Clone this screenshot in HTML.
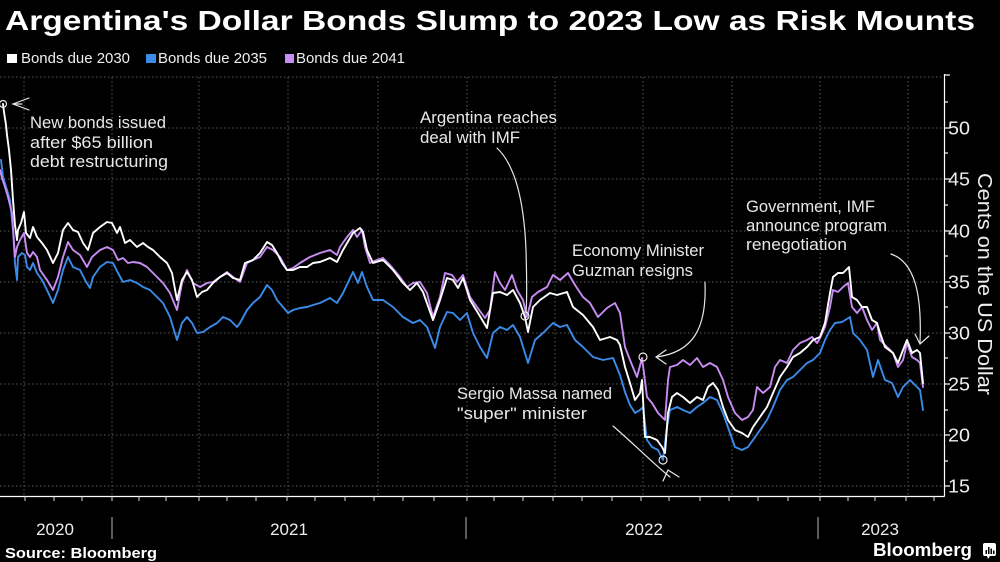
<!DOCTYPE html>
<html>
<head>
<meta charset="utf-8">
<style>
html,body{margin:0;padding:0;background:#000;}
body{width:1000px;height:562px;overflow:hidden;}
svg{display:block;}
text{font-family:"Liberation Sans",sans-serif;}
</style>
</head>
<body>
<svg width="1000" height="562" viewBox="0 0 1000 562" xmlns="http://www.w3.org/2000/svg">
<rect x="0" y="0" width="1000" height="562" fill="#000"/>

<!-- Title -->
<text x="5" y="30" font-size="28" font-weight="bold" fill="#fff" textLength="970" lengthAdjust="spacingAndGlyphs">Argentina's Dollar Bonds Slump to 2023 Low as Risk Mounts</text>

<!-- Legend -->
<rect x="7" y="54" width="10" height="9" fill="#fff"/>
<text x="21" y="63" font-size="15" fill="#eee" textLength="109" lengthAdjust="spacingAndGlyphs">Bonds due 2030</text>
<rect x="146" y="54" width="10" height="9" fill="#3b8be8"/>
<text x="158" y="63" font-size="15" fill="#eee" textLength="109" lengthAdjust="spacingAndGlyphs">Bonds due 2035</text>
<rect x="285" y="54" width="9" height="9" fill="#c88cf2"/>
<text x="296" y="63" font-size="15" fill="#eee" textLength="109" lengthAdjust="spacingAndGlyphs">Bonds due 2041</text>

<!-- Grid -->
<g stroke="#5a5a5a" stroke-width="1" stroke-dasharray="1.5,2.5">
<line x1="0" y1="77" x2="944" y2="77"/>
<line x1="0" y1="128" x2="944" y2="128"/>
<line x1="0" y1="179" x2="944" y2="179"/>
<line x1="0" y1="231" x2="944" y2="231"/>
<line x1="0" y1="282" x2="944" y2="282"/>
<line x1="0" y1="333" x2="944" y2="333"/>
<line x1="0" y1="384" x2="944" y2="384"/>
<line x1="0" y1="435" x2="944" y2="435"/>
<line x1="0" y1="486" x2="944" y2="486"/>
<line x1="24" y1="77" x2="24" y2="496"/>
<line x1="112" y1="77" x2="112" y2="496"/>
<line x1="199" y1="77" x2="199" y2="496"/>
<line x1="288" y1="77" x2="288" y2="496"/>
<line x1="378" y1="77" x2="378" y2="496"/>
<line x1="467" y1="77" x2="467" y2="496"/>
<line x1="555" y1="77" x2="555" y2="496"/>
<line x1="643" y1="77" x2="643" y2="496"/>
<line x1="732" y1="77" x2="732" y2="496"/>
<line x1="820" y1="77" x2="820" y2="496"/>
<line x1="908" y1="77" x2="908" y2="496"/>
</g>

<!-- Axes -->
<g stroke="#fff" stroke-width="1.2" fill="none">
<line x1="0" y1="496.5" x2="944.5" y2="496.5"/>
<line x1="944.5" y1="74" x2="944.5" y2="496.5"/>
<!-- y ticks -->
<line x1="944" y1="75" x2="950" y2="75"/>
<line x1="944" y1="102" x2="948" y2="102"/>
<line x1="944" y1="128" x2="950" y2="128"/>
<line x1="944" y1="153" x2="948" y2="153"/>
<line x1="944" y1="179" x2="950" y2="179"/>
<line x1="944" y1="205" x2="948" y2="205"/>
<line x1="944" y1="231" x2="950" y2="231"/>
<line x1="944" y1="256" x2="948" y2="256"/>
<line x1="944" y1="282" x2="950" y2="282"/>
<line x1="944" y1="307" x2="948" y2="307"/>
<line x1="944" y1="333" x2="950" y2="333"/>
<line x1="944" y1="358" x2="948" y2="358"/>
<line x1="944" y1="384" x2="950" y2="384"/>
<line x1="944" y1="410" x2="948" y2="410"/>
<line x1="944" y1="435" x2="950" y2="435"/>
<line x1="944" y1="461" x2="948" y2="461"/>
<line x1="944" y1="486" x2="950" y2="486"/>
</g>
<g stroke="#ddd" stroke-width="1">
<line x1="25" y1="496" x2="25" y2="501"/>
<line x1="54" y1="496" x2="54" y2="501"/>
<line x1="82" y1="496" x2="82" y2="501"/>
<line x1="112" y1="496" x2="112" y2="501"/>
<line x1="139" y1="496" x2="139" y2="501"/>
<line x1="166" y1="496" x2="166" y2="501"/>
<line x1="199" y1="496" x2="199" y2="501"/>
<line x1="227" y1="496" x2="227" y2="501"/>
<line x1="256" y1="496" x2="256" y2="501"/>
<line x1="287" y1="496" x2="287" y2="501"/>
<line x1="315" y1="496" x2="315" y2="501"/>
<line x1="345" y1="496" x2="345" y2="501"/>
<line x1="374" y1="496" x2="374" y2="501"/>
<line x1="403" y1="496" x2="403" y2="501"/>
<line x1="434" y1="496" x2="434" y2="501"/>
<line x1="467" y1="496" x2="467" y2="501"/>
<line x1="494" y1="496" x2="494" y2="501"/>
<line x1="523" y1="496" x2="523" y2="501"/>
<line x1="553" y1="496" x2="553" y2="501"/>
<line x1="582" y1="496" x2="582" y2="501"/>
<line x1="612" y1="496" x2="612" y2="501"/>
<line x1="641" y1="496" x2="641" y2="501"/>
<line x1="669" y1="496" x2="669" y2="501"/>
<line x1="700" y1="496" x2="700" y2="501"/>
<line x1="729" y1="496" x2="729" y2="501"/>
<line x1="758" y1="496" x2="758" y2="501"/>
<line x1="788" y1="496" x2="788" y2="501"/>
<line x1="820" y1="496" x2="820" y2="501"/>
<line x1="848" y1="496" x2="848" y2="501"/>
<line x1="875" y1="496" x2="875" y2="501"/>
<line x1="906" y1="496" x2="906" y2="501"/>
<line x1="934" y1="496" x2="934" y2="501"/>
</g>
<!-- year separators -->
<g stroke="#9a9a9a" stroke-width="1.2">
<line x1="112" y1="517" x2="112" y2="539"/>
<line x1="466" y1="517" x2="466" y2="539"/>
<line x1="818" y1="517" x2="818" y2="539"/>
</g>

<!-- Y labels -->
<g font-size="18" fill="#eee">
<text x="948" y="134.5" textLength="22" lengthAdjust="spacingAndGlyphs">50</text>
<text x="948" y="185.5" textLength="22" lengthAdjust="spacingAndGlyphs">45</text>
<text x="948" y="237.5" textLength="22" lengthAdjust="spacingAndGlyphs">40</text>
<text x="948" y="288.5" textLength="22" lengthAdjust="spacingAndGlyphs">35</text>
<text x="948" y="339.5" textLength="22" lengthAdjust="spacingAndGlyphs">30</text>
<text x="948" y="390.5" textLength="22" lengthAdjust="spacingAndGlyphs">25</text>
<text x="948" y="441.5" textLength="22" lengthAdjust="spacingAndGlyphs">20</text>
<text x="948" y="492.5" textLength="22" lengthAdjust="spacingAndGlyphs">15</text>
</g>
<text transform="translate(978,284) rotate(90)" text-anchor="middle" font-size="20" fill="#eee" textLength="222" lengthAdjust="spacingAndGlyphs">Cents on the US Dollar</text>

<!-- X labels -->
<g font-size="17" fill="#eee" text-anchor="middle">
<text x="55" y="535">2020</text>
<text x="289" y="535">2021</text>
<text x="644" y="535">2022</text>
<text x="880" y="535">2023</text>
</g>

<!-- Series -->
<g fill="none" stroke-width="1.9" stroke-linejoin="round" stroke-linecap="round">
<polyline stroke="#3b8be8" points="1,160 3,177 7,190 10,200 13,230 15,263 17,280 18,257 22,253 25,255 27,267 30,270 33,263 37,273 42,280 47,290 53,303 58,290 63,270 68,257 73,267 80,270 85,280 90,288 93,277 100,267 107,262 113,263 118,273 123,282 130,280 137,283 143,287 150,290 157,297 163,303 170,317 177,340 182,323 187,317 192,323 197,333 203,332 210,327 217,323 223,317 230,320 237,327 240,323 247,310 253,303 260,297 267,285 272,290 277,300 283,307 288,313 293,310 300,308 307,307 313,305 320,303 330,298 337,303 343,293 353,272 358,283 362,272 367,287 373,300 383,300 393,307 403,317 413,323 420,320 427,327 435,348 440,327 447,312 453,313 460,320 467,313 473,333 480,347 487,358 493,333 500,327 507,330 513,325 520,337 528,363 535,340 543,333 553,323 560,327 567,325 575,340 583,347 593,357 603,360 613,358 620,375 625,392 630,405 635,413 640,410 643,407 647,440 652,447 658,450 663,460 667,427 670,410 677,407 683,410 690,413 697,407 703,403 710,397 717,400 723,413 730,433 735,447 742,450 748,447 753,440 760,430 767,420 773,407 780,390 787,380 793,377 800,370 807,363 813,360 820,353 825,340 830,330 835,323 842,322 850,317 853,333 860,340 867,350 873,377 878,360 885,380 892,383 898,397 903,387 910,380 917,387 920,390 923,410"/>
<polyline stroke="#c88cf2" points="0,170 2,178 5,187 8,197 12,213 15,257 17,247 20,240 24,233 27,253 30,257 33,252 37,257 40,270 47,280 53,290 58,277 63,257 68,242 73,250 80,255 87,267 92,257 100,250 107,247 113,250 118,260 123,258 128,263 133,262 140,263 147,267 153,273 163,283 170,293 177,310 182,283 187,270 193,283 200,287 207,283 213,282 220,277 227,272 233,277 240,282 247,263 253,260 260,257 267,247 273,250 280,257 287,270 293,268 300,263 310,257 320,253 330,250 337,255 340,247 347,237 353,230 357,237 362,230 365,247 370,263 377,260 383,258 390,265 400,277 407,287 413,283 420,282 427,293 433,317 440,297 445,273 452,275 457,282 463,275 470,297 477,307 485,318 490,310 495,272 500,283 505,290 512,275 517,290 523,300 527,317 532,297 538,292 547,287 553,275 560,280 568,273 575,285 583,297 590,303 598,317 607,308 615,303 620,313 625,347 630,360 637,377 642,358 644,373 647,397 652,403 658,413 665,420 668,380 670,367 677,365 683,360 690,365 697,358 703,367 710,363 717,367 723,380 728,397 735,413 742,420 748,417 753,410 757,387 763,393 770,387 775,367 780,360 787,363 793,350 800,343 807,340 812,337 817,343 820,338 825,327 830,307 833,290 838,292 843,287 848,283 852,307 857,313 862,307 867,320 872,330 877,323 880,340 887,347 893,353 898,367 903,360 907,343 912,357 917,360 920,363 923,387"/>
<polyline stroke="#ffffff" points="3,104 4,112 6,125 7,135 9,150 11,170 13,200 15,225 17,240 18,230 21,223 24,212 26,233 30,238 33,227 37,237 42,243 47,250 53,263 58,253 63,230 68,223 73,230 78,232 83,243 88,250 93,233 100,227 107,222 112,223 117,233 120,227 125,243 130,240 137,247 143,243 148,247 153,250 160,257 167,263 172,273 177,300 182,280 187,272 192,280 197,297 202,292 207,290 213,283 220,277 227,273 233,278 240,280 245,263 253,260 260,253 267,242 272,245 277,253 282,263 287,270 293,270 300,267 307,267 313,263 320,262 330,258 337,262 343,250 353,233 360,228 363,232 367,250 373,263 383,260 393,270 403,283 410,290 417,283 423,292 433,320 440,300 447,278 453,280 458,288 463,278 470,300 478,313 487,328 493,293 500,292 507,295 513,290 520,303 525,317 528,332 533,307 540,300 550,293 557,295 567,292 573,307 583,315 593,327 600,340 610,337 617,340 620,345 625,367 630,383 635,400 640,393 642,380 645,437 650,437 657,440 662,447 665,453 668,413 672,397 677,393 683,397 690,403 697,397 703,400 708,387 713,383 718,390 723,407 728,420 735,430 742,433 748,437 753,427 760,417 767,407 773,393 780,377 787,367 793,357 800,353 807,347 813,340 820,337 825,323 830,293 833,277 838,273 843,273 849,267 852,297 857,300 862,307 867,307 872,320 877,323 880,333 885,347 893,353 898,363 903,350 907,340 912,353 917,350 920,353 923,383"/>
</g>

<!-- Annotations -->
<g fill="none" stroke="#e6e6e6" stroke-width="1.2" stroke-linecap="round">
<circle cx="3" cy="104" r="3.5"/>
<polyline points="29,98 13,104 29,110"/>
<line x1="13" y1="104" x2="22" y2="104"/>
<path d="M497,148 C515,165 524,200 526,250 C527,285 527,300 526,312"/>
<circle cx="525" cy="316" r="4"/>
<path d="M705,282 C707,330 692,352 657,357"/>
<polyline points="666,350 656,357 666,364"/>
<circle cx="643" cy="357" r="4"/>
<path d="M613,426 C635,445 655,465 670,477"/>
<polyline points="663,481 668,470 679,477"/>
<circle cx="663" cy="460" r="4"/>
<path d="M891,254 C915,262 922,295 920,343"/>
<polyline points="915,334 920,344 929,336"/>
</g>
<g font-size="16.5" fill="#e8e8e8">
<text x="30" y="128" textLength="136" lengthAdjust="spacingAndGlyphs">New bonds issued</text>
<text x="30" y="148" textLength="123" lengthAdjust="spacingAndGlyphs">after $65 billion</text>
<text x="30" y="167" textLength="138" lengthAdjust="spacingAndGlyphs">debt restructuring</text>
<text x="420" y="123" textLength="137" lengthAdjust="spacingAndGlyphs">Argentina reaches</text>
<text x="420" y="143" textLength="100" lengthAdjust="spacingAndGlyphs">deal with IMF</text>
<text x="572" y="256" textLength="132" lengthAdjust="spacingAndGlyphs">Economy Minister</text>
<text x="572" y="276" textLength="121" lengthAdjust="spacingAndGlyphs">Guzman resigns</text>
<text x="457" y="399" textLength="155" lengthAdjust="spacingAndGlyphs">Sergio Massa named</text>
<text x="457" y="419" textLength="130" lengthAdjust="spacingAndGlyphs">"super" minister</text>
<text x="746" y="212" textLength="129" lengthAdjust="spacingAndGlyphs">Government, IMF</text>
<text x="746" y="231" textLength="141" lengthAdjust="spacingAndGlyphs">announce program</text>
<text x="746" y="250" textLength="101" lengthAdjust="spacingAndGlyphs">renegotiation</text>
</g>

<!-- Footer -->
<text x="5" y="558" font-size="14.5" font-weight="bold" fill="#fff" textLength="152" lengthAdjust="spacingAndGlyphs">Source: Bloomberg</text>
<text x="873" y="556" font-size="18" font-weight="bold" fill="#fff" textLength="99" lengthAdjust="spacingAndGlyphs">Bloomberg</text>
<rect x="983" y="543" width="13" height="13" rx="2" fill="#fff"/>
<polygon points="987,556 990,556 988,559" fill="#fff"/>
<g fill="#000">
<rect x="985.5" y="550" width="1.5" height="4"/>
<rect x="988" y="547" width="1.5" height="7"/>
<rect x="990.5" y="548.5" width="1.5" height="5.5"/>
<rect x="993" y="550.5" width="1.5" height="3.5"/>
</g>
</svg>
</body>
</html>
